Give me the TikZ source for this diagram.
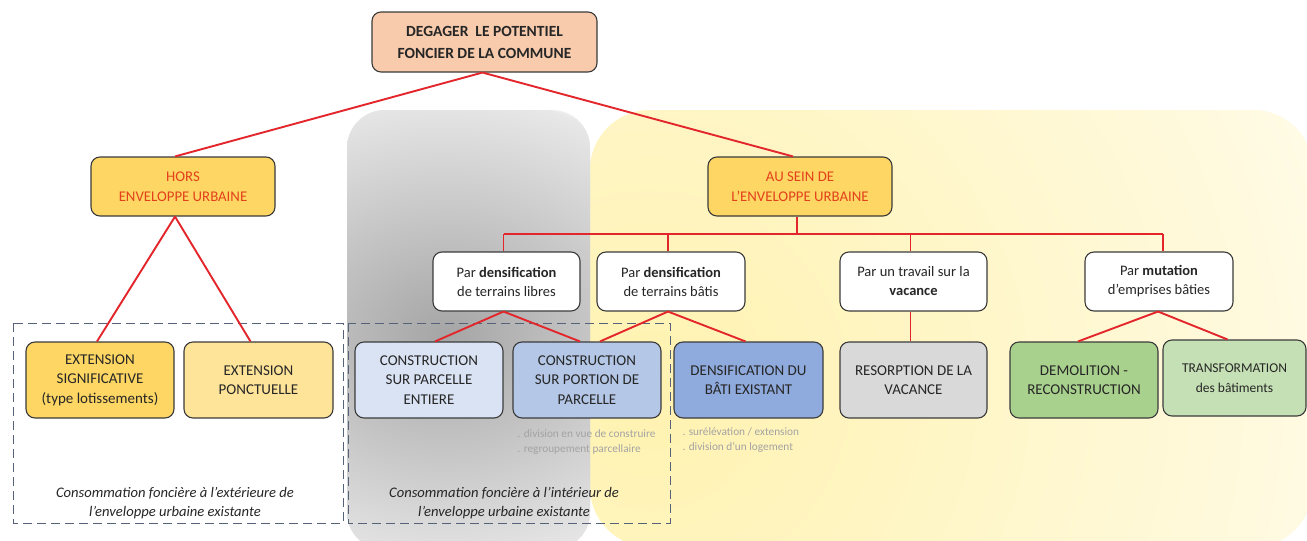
\documentclass[tikz,border=0pt]{standalone}
\usepackage{fontspec}
\setmainfont{Carlito}
\usetikzlibrary{calc}
\definecolor{linkred}{HTML}{E3262B}
\definecolor{boxline}{HTML}{3B3B3B}
\definecolor{peach}{HTML}{F7CBAC}
\definecolor{gold}{HTML}{FDD663}
\definecolor{goldlight}{HTML}{FEE499}
\definecolor{blueA}{HTML}{DAE3F3}
\definecolor{blueB}{HTML}{B4C7E7}
\definecolor{blueC}{HTML}{8FAADC}
\definecolor{greyBox}{HTML}{D9D9D9}
\definecolor{greenA}{HTML}{A9D18E}
\definecolor{greenB}{HTML}{C5E0B4}
\definecolor{titlered}{HTML}{E2411C}
\definecolor{notegrey}{HTML}{A3A3A3}
\definecolor{dashblue}{HTML}{55627A}
\definecolor{textdark}{HTML}{262626}
\tikzset{
  box/.style={draw=boxline, line width=1.1pt, rounded corners=9pt, align=center,
    text=textdark, font=\fontsize{15}{19.5}\selectfont, inner sep=0pt},
  rowbox/.style={box, fill=white, minimum width=147pt, minimum height=59pt,
    font=\fontsize{14.5}{19}\selectfont},
  leafbox/.style={box, minimum width=148pt, minimum height=76pt},
  link/.style={draw=linkred, line width=1.9pt},
  bus/.style={draw=linkred, line width=1.1pt},
  frame/.style={draw=dashblue, line width=0.9pt, dash pattern=on 9pt off 5pt},
  caption/.style={align=center, text=textdark, font=\fontsize{14.6}{19}\selectfont\itshape},
  note/.style={align=left, anchor=north west, text=notegrey, font=\fontsize{11.3}{15}\selectfont}
}
\begin{document}
\begin{tikzpicture}[x=1pt, y=-1pt]
\useasboundingbox (0,0) rectangle (1307,541);
\fill[white] (0,0) rectangle (1307,541);

% yellow backdrop of the urban envelope
\begin{scope}
  \clip[rounded corners=60pt] (590,110) rectangle (1313,547);
  \fill[color={rgb,255:red,255;green,252;blue,236}] (560,90) rectangle (1340,560);
  \shade[inner color={rgb,255:red,255;green,242;blue,176}, outer color={rgb,255:red,255;green,252;blue,236}] (650,390) circle (800);
\end{scope}

% grey backdrop behind the free-land column
\begin{scope}
  \clip[rounded corners=38pt] (347,110) rectangle (590,550);
  \shade[top color={rgb,255:red,238;green,238;blue,238}, bottom color={rgb,255:red,218;green,218;blue,218}] (340,100) rectangle (600,560);
  \shade[inner color={rgb,255:red,165;green,165;blue,165}, outer color={rgb,255:red,232;green,232;blue,232}] (445,335) ellipse (300 and 240);
\end{scope}

% dashed frames
\draw[frame] (13,323) rectangle (343,523);
\draw[frame] (348,323) rectangle (670,523);

% top node
\node[box, fill=peach, minimum width=225pt, minimum height=60pt,
      font=\fontsize{15.5}{22}\selectfont\bfseries] (top) at (484.5,42)
  {DEGAGER~ LE POTENTIEL\\FONCIER DE LA COMMUNE};

% second level
\node[box, fill=gold, text=titlered, minimum width=184pt, minimum height=59pt,
      font=\fontsize{14.8}{20}\selectfont] (hors) at (183,186.5)
  {HORS\\ENVELOPPE URBAINE};
\node[box, fill=gold, text=titlered, minimum width=184pt, minimum height=59pt,
      font=\fontsize{14.8}{20}\selectfont] (sein) at (800,186.5)
  {AU SEIN DE\\L'ENVELOPPE URBAINE};

% third level
\node[rowbox] (libres) at (506.5,281.5) {Par \textbf{densification}\\de terrains libres};
\node[rowbox, minimum width=148pt] (batis) at (671,281.5) {Par \textbf{densification}\\de terrains bâtis};
\node[rowbox] (vac) at (913.5,281.5) {Par un travail sur la\\\textbf{vacance}};
\node[rowbox, minimum width=148pt] (mut) at (1159,281.5) {Par \textbf{mutation}\\d'emprises bâties};

% leaves
\node[leafbox, fill=gold] (extsig) at (100,380) {EXTENSION\\SIGNIFICATIVE\\(type lotissements)};
\node[leafbox, fill=goldlight, minimum width=149pt] (extpon) at (258.5,380) {EXTENSION\\PONCTUELLE};
\node[leafbox, fill=blueA] (entiere) at (429,380) {CONSTRUCTION\\SUR PARCELLE\\ENTIERE};
\node[leafbox, fill=blueB] (portion) at (587,380) {CONSTRUCTION\\SUR PORTION DE\\PARCELLE};
\node[leafbox, fill=blueC, minimum width=149pt] (densif) at (748.5,380) {DENSIFICATION DU\\BÂTI EXISTANT};
\node[leafbox, fill=greyBox, minimum width=147pt] (resorp) at (913.5,380) {RESORPTION DE LA\\VACANCE};
\node[leafbox, fill=greenA] (demol) at (1084,380) {DEMOLITION -\\RECONSTRUCTION};
\node[leafbox, fill=greenB, minimum width=143pt, font=\fontsize{13.5}{19.5}\selectfont] (transf) at (1234.5,378)
  {TRANSFORMATION\\des bâtiments};

% notes
\node[note] (noteA) at (514,426) {. division en vue de construire\\. regroupement parcellaire};
\node[note] (noteB) at (679,424) {. surélévation / extension\\. division d'un logement};

% captions
\node[caption] (capL) at (175,503.5) {Consommation foncière à l'extérieure de\\l'enveloppe urbaine existante};
\node[caption] (capR) at (504,503.5) {Consommation foncière à l'intérieur de\\l'enveloppe urbaine existante};

% connectors
\draw[link] ([xshift=-2pt]top.south) -- ([xshift=-8pt]hors.north);
\draw[link] ([xshift=-2pt]top.south) -- ([xshift=-7pt]sein.north);
\draw[link] ([xshift=-8pt]hors.south) -- ([xshift=-3pt]extsig.north);
\draw[link] ([xshift=-8pt]hors.south) -- ([xshift=-8pt]extpon.north);
\draw[link] ([xshift=-3pt]libres.south) -- ([xshift=6pt]entiere.north);
\draw[link] ([xshift=-3pt]libres.south) -- ([xshift=-7pt]portion.north);
\draw[link] ([xshift=-3pt]batis.south) -- ([xshift=13pt]portion.north);
\draw[link] ([xshift=-3pt]batis.south) -- ([xshift=-3pt]densif.north);
\draw[link] ([xshift=-1pt]mut.south) -- ([xshift=-6pt]demol.north);
\draw[link] ([xshift=-1pt]mut.south) -- ([xshift=-7pt]transf.north);

% bus under the urban-envelope node
\coordinate (busy) at (0,234);
\draw[bus] ([xshift=-3pt]sein.south) -- ([xshift=-3pt]sein.south |- busy);
\draw[bus] ([xshift=-3pt]libres.north |- busy) -- ([xshift=4pt]mut.north |- busy);
\draw[bus] ([xshift=-3pt]libres.north |- busy) -- ([xshift=-3pt]libres.north);
\draw[bus] ([xshift=-3pt]batis.north |- busy) -- ([xshift=-3pt]batis.north);
\draw[bus] ([xshift=-3pt]vac.north |- busy) -- ([xshift=-3pt]vac.north);
\draw[bus] ([xshift=4pt]mut.north |- busy) -- ([xshift=4pt]mut.north);
\draw[bus] ([xshift=-3pt]vac.south) -- ([xshift=-3pt]resorp.north);
\end{tikzpicture}
\end{document}
